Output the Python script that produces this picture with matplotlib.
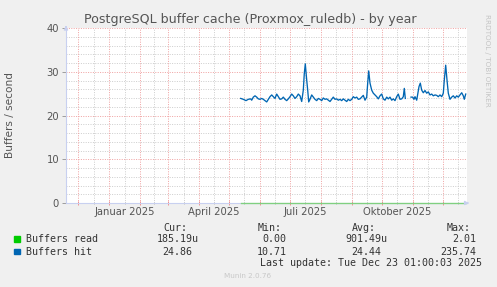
import numpy as np
import matplotlib
matplotlib.use("Agg")
import matplotlib.pyplot as plt

# ---- data (x = day of 2025, 0 = Jan 1 2025) ----
hit_days = [131.7, 134.3, 137, 139.3, 141.7, 142.7, 144.3, 146, 147.7, 149.3, 151, 152.7,
            154.3, 156, 157.7, 159.3, 161, 162.7, 164.3, 166, 167.7, 169.3, 171, 172.7,
            174.3, 176, 177.7, 179.3, 181, 182.7, 184.3, 186, 187.7, 189.3, 191, 192.7,
            194.3, 195.3, 196.3, 197.7, 198.7, 199.7, 201, 202.7, 204.3, 206, 207.7, 209.3,
            211, 212.7, 214.3, 216, 217.7, 219.3, 221, 222.7, 224.3, 226, 227.7, 229.3,
            231, 232.7, 234.3, 236, 237.7, 239.3, 241, 242.7, 244.3, 246, 247.7, 249.3,
            251, 252.7, 254.3, 256, 257.7, 258.7, 259.7, 261, 262.7, 264.3, 266, 267.7,
            269.3, 271, 272.7, 274.3, 276, 277.7, 279.3, 281, 282.7, 284.3, 286, 287.7,
            289.3, 291, 292.7, 294.3, 295.3, 296.3, 299,
            302, 303.7, 305, 306, 307.7, 308.7, 310, 311.3, 312.7, 314.3, 316, 317.7,
            319.3, 321, 322.7, 324.3, 326, 327.7, 329.3, 331, 332.7, 334.3, 335.3, 336.7,
            338, 339.3, 341, 342.7, 344.3, 346, 347.7, 349.3, 351, 352.7, 354.3, 355.3, 356.7]
hit_vals = [23.9, 23.7, 23.4, 23.7, 23.8, 23.5, 24.2, 24.5, 24.2, 23.8, 23.7, 23.9,
            23.7, 23.4, 23.1, 23.7, 24.3, 24.7, 24.3, 23.9, 24.9, 24.3, 23.7, 23.8,
            24.2, 23.7, 23.4, 23.8, 24.3, 24.9, 24.5, 23.9, 24.3, 24.9, 24.5, 23.2,
            25.8, 29.6, 31.8, 28.1, 25.8, 23.1, 23.7, 24.7, 24.2, 23.7, 23.4, 23.9,
            23.7, 23.4, 24.0, 23.7, 23.8, 23.5, 23.2, 23.7, 24.2, 23.7, 23.8, 23.5,
            23.7, 23.4, 23.8, 23.5, 23.2, 23.7, 23.4, 23.7, 24.3, 24.0, 24.2, 23.7,
            23.8, 24.2, 24.6, 23.5, 24.2, 27.4, 30.2, 27.4, 25.8, 25.1, 24.7, 24.3,
            23.8, 24.5, 24.9, 23.8, 23.5, 24.2, 23.8, 24.2, 23.5, 23.8, 23.4, 24.3,
            24.9, 23.7, 23.8, 24.3, 26.2, 23.9, np.nan,
            24.2, 24.2, 23.7, 24.3, 23.5, 24.9, 26.6, 27.4, 25.8, 25.2, 25.7, 25.1,
            25.4, 24.7, 24.9, 24.5, 24.7, 24.6, 24.3, 24.7, 24.3, 25.1, 28.1, 31.5,
            28.1, 25.1, 23.7, 24.2, 24.5, 24.0, 24.5, 24.2, 24.7, 25.2, 24.5, 23.7, 24.9]
read_days = [131.7, 200, 260, 300, 356.7]
read_vals = [0.0, 0.0, 0.0, 0.0, 0.0]

y_ticks = [0, 10, 20, 30, 40]
month_labels = {"2025-01": "Januar 2025", "2025-04": "April 2025",
                "2025-07": "Juli 2025", "2025-10": "Oktober 2025"}
legend_rows = [("Buffers read", "#00CC00", "185.19u", "0.00", "901.49u", "2.01"),
               ("Buffers hit", "#0066B3", "24.86", "10.71", "24.44", "235.74")]

W, H = 497, 287
fig = plt.figure(figsize=(W / 100, H / 100), dpi=100, facecolor="#F0F0F0")
L, R, T, B = 66, 467, 28, 203
ax = fig.add_axes([L / W, 1 - B / H, (R - L) / W, (B - T) / H])
ax.set_facecolor("white")

base = np.datetime64("2025-01-01")
months = np.arange(np.datetime64("2024-11"), np.datetime64("2026-02"), dtype="datetime64[M]")
mstarts = (months.astype("datetime64[D]") - base).astype(float)
mids = (mstarts[:-1] + mstarts[1:]) / 2

xmin, xmax = -43, 358
grid_major = "#F0A4A4"
grid_minor = "#CFCFCF"
dots = (0, (1, 1.4))
for v in mids:
    if xmin < v < xmax:
        ax.axvline(v, color=grid_minor, lw=0.72, ls=dots, zorder=1)
for yy in np.arange(2, 40, 2):
    if yy % 10:
        ax.axhline(yy, color=grid_minor, lw=0.72, ls=dots, zorder=1)
for v in mstarts:
    if xmin < v < xmax:
        ax.axvline(v, color=grid_major, lw=0.72, ls=dots, zorder=1)
for yy in y_ticks[1:]:
    ax.axhline(yy, color=grid_major, lw=0.72, ls=dots, zorder=1)

ax.plot(hit_days, hit_vals, color="#0066B3", lw=0.95, zorder=3)
ax.plot(read_days, read_vals, color="#80D080", lw=0.95, zorder=3, clip_on=False)

ax.set_xlim(xmin, xmax)
ax.set_ylim(0, 40)
for s in ["top", "right"]:
    ax.spines[s].set_visible(False)
for s in ["left", "bottom"]:
    ax.spines[s].set_color("#C8D0F0")
    ax.spines[s].set_linewidth(0.8)

ax.set_yticks(y_ticks)
ax.set_yticklabels([str(v) for v in y_ticks])
ax.tick_params(axis="y", length=3, width=0.6, color="#909090", labelsize=7.2,
               labelcolor="#555555", pad=2)
ax.set_xticks([v for v in mstarts if xmin < v < xmax])
ax.set_xticklabels([])
ax.tick_params(axis="x", length=3, width=0.6, color="#F08080", direction="inout")
ax.set_xticks([v for v in mids if xmin < v < xmax], minor=True)
labs = []
for m, v in zip(months[:-1], mids):
    if xmin < v < xmax:
        labs.append(month_labels.get(str(m), ""))
ax.set_xticklabels(labs, minor=True)
ax.tick_params(axis="x", which="minor", length=2, width=0.6, color="#B0B0B0",
               direction="inout", labelsize=7.2, labelcolor="#555555", pad=2)

# arrows
ax.annotate("", xy=(0, 1.03), xytext=(0, 0.99), xycoords="axes fraction",
            arrowprops=dict(arrowstyle="-|>", color="#C8D0F0", lw=0.8,
                            mutation_scale=6), annotation_clip=False)
ax.annotate("", xy=(1.012, 0), xytext=(0.995, 0), xycoords="axes fraction",
            arrowprops=dict(arrowstyle="-|>", color="#C8D0F0", lw=0.8,
                            mutation_scale=6), annotation_clip=False)

def px(x, y):
    return x / W, 1 - y / H

fig.text(*px(250, 19), "PostgreSQL buffer cache (Proxmox_ruledb) - by year",
         ha="center", va="center", fontsize=9.1, color="#555555")
fig.text(*px(10, 115), "Buffers / second", rotation=90, ha="center", va="center",
         fontsize=7.6, color="#555555")
fig.text(*px(487, 60), "RRDTOOL / TOBI OETIKER", rotation=270, ha="center",
         va="center", fontsize=5.2, color="#C4C4C4")

mono = "DejaVu Sans Mono"
tc = "#333333"
fs = 7.2
for x, s in [(163, "Cur:"), (257.7, "Min:"), (352.3, "Avg:"), (447, "Max:")]:
    fig.text(*px(x, 227.7), s, family=mono, fontsize=fs, color=tc, ha="left", va="center")
col_right = [192.3, 286.7, 381.7, 476.7]
for i, (name, col, cur, mn, avg, mx) in enumerate(legend_rows):
    y = 239.3 + i * 12.4
    fig.patches.append(plt.Rectangle(((14) / W, 1 - (y + 2.6) / H), 5.5 / W, 5.5 / H,
                                     transform=fig.transFigure, color=col, figure=fig))
    fig.text(*px(26.3, y), name, family=mono, fontsize=fs, color=tc, ha="left", va="center")
    for xr, s in zip(col_right, [cur, mn, avg, mx]):
        if s.endswith("u"):
            fig.text(*px(xr + 6, y), s, family=mono, fontsize=fs, color=tc, ha="right", va="center")
        else:
            fig.text(*px(xr, y), s, family=mono, fontsize=fs, color=tc, ha="right", va="center")
fig.text(*px(482.3, 263.3), "Last update: Tue Dec 23 01:00:03 2025", family=mono,
         fontsize=fs, color=tc, ha="right", va="center")
fig.text(*px(248, 276.3), "Munin 2.0.76", ha="center", va="center", fontsize=5.2,
         color="#C8C8C8")

fig.savefig("out.png", dpi=100, facecolor=fig.get_facecolor())
